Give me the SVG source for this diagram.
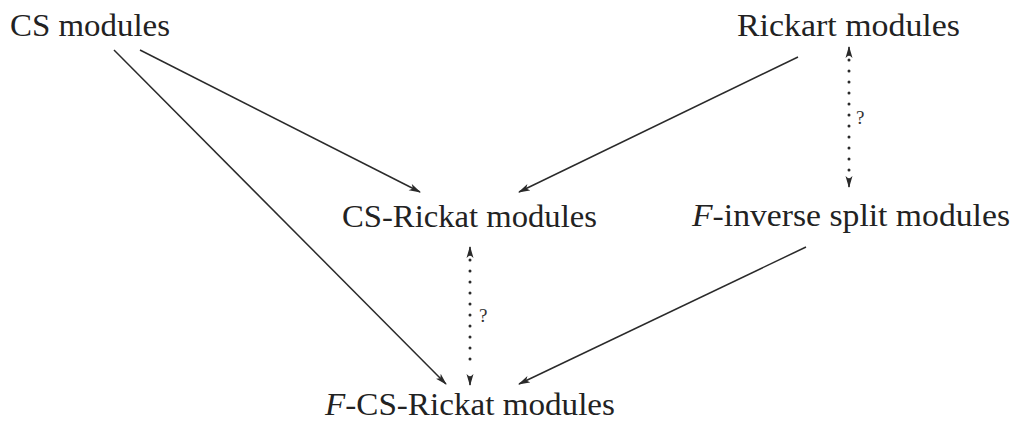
<svg xmlns="http://www.w3.org/2000/svg" width="1017" height="424" viewBox="0 0 1017 424">
<defs>
<marker id="ah" viewBox="0 0 12 8" refX="11" refY="4" markerWidth="12" markerHeight="8" markerUnits="userSpaceOnUse" orient="auto-start-reverse">
<path d="M0,0.5 L12,4 L0,7.5 L3,4 z" fill="#2a2a2a"/>
</marker>
<style>
.lbl{font-family:"Liberation Serif","DejaVu Serif",serif;font-size:31px;fill:#222}
.q{font-family:"Liberation Serif","DejaVu Serif",serif;font-size:19px;fill:#333}
.edge{stroke:#2a2a2a;stroke-width:1.5;fill:none}
.dots{stroke:#2a2a2a;stroke-width:3;stroke-linecap:round;stroke-dasharray:0 11;fill:none}
.it{font-style:italic}
</style>
</defs>
<rect width="1017" height="424" fill="#ffffff"/>
<g id="n-cs"><text class="lbl" x="10" y="36" textLength="160" lengthAdjust="spacingAndGlyphs">CS modules</text></g>
<g id="n-rickart"><text class="lbl" x="737" y="36" textLength="223" lengthAdjust="spacingAndGlyphs">Rickart modules</text></g>
<g id="n-csrickat"><text class="lbl" x="342" y="227" textLength="255" lengthAdjust="spacingAndGlyphs">CS-Rickat modules</text></g>
<g id="n-finv"><text class="lbl" x="692" y="226" textLength="318" lengthAdjust="spacingAndGlyphs"><tspan class="it">F</tspan>-inverse split modules</text></g>
<g id="n-fcs"><text class="lbl" x="325" y="415" textLength="290" lengthAdjust="spacingAndGlyphs"><tspan class="it">F</tspan>-CS-Rickat modules</text></g>
<g id="connectors">
<line class="edge" x1="140" y1="50" x2="420" y2="192" marker-end="url(#ah)"/>
<line class="edge" x1="114" y1="50" x2="446" y2="384" marker-end="url(#ah)"/>
<line class="edge" x1="798" y1="57" x2="519" y2="192" marker-end="url(#ah)"/>
<line class="edge" x1="806" y1="247" x2="519" y2="384" marker-end="url(#ah)"/>
<line class="dots" x1="849" y1="60" x2="849" y2="180"/>
<line class="edge" x1="849" y1="56" x2="849" y2="47" marker-end="url(#ah)"/>
<line class="edge" x1="849" y1="178" x2="849" y2="187" marker-end="url(#ah)"/>
<text class="q" x="856" y="124">?</text>
<line class="dots" x1="470" y1="260" x2="470" y2="370"/>
<line class="edge" x1="470" y1="256" x2="470" y2="247" marker-end="url(#ah)"/>
<line class="edge" x1="470" y1="376" x2="470" y2="385" marker-end="url(#ah)"/>
<text class="q" x="479" y="322">?</text>
</g>
</svg>
